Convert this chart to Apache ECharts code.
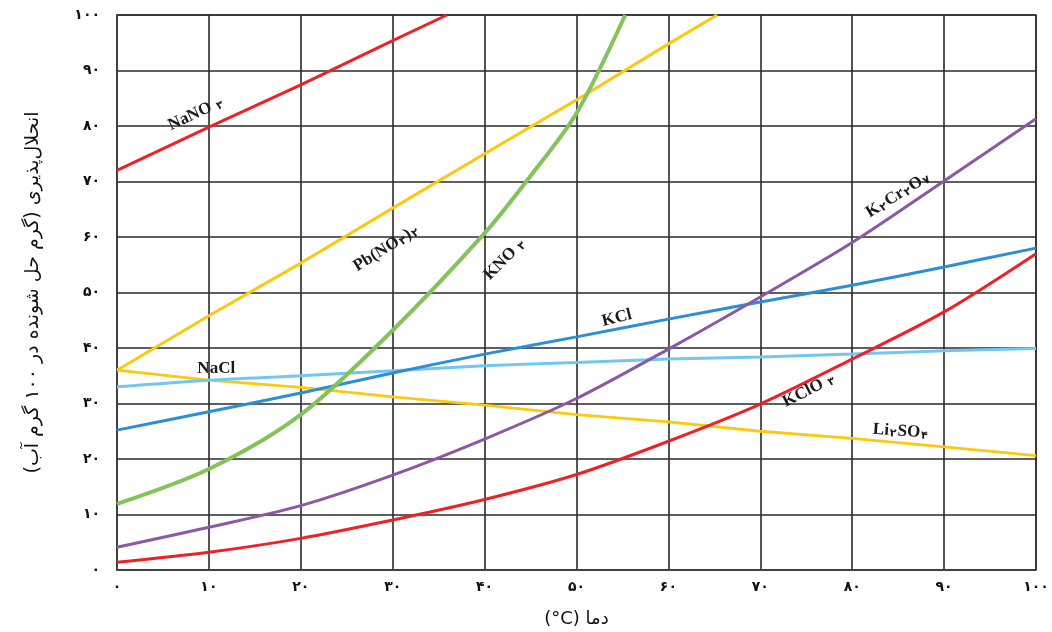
<!DOCTYPE html>
<html>
<head>
<meta charset="utf-8">
<script src="https://cdn.jsdelivr.net/npm/echarts@6/dist/echarts.min.js"></script>
<style>
html,body{margin:0;padding:0;background:#fff;}
#chart{width:1052px;height:632px;}
</style>
</head>
<body>
<div id="chart"></div>
<script>
// ---- data ----
const xTicks = [0,10,20,30,40,50,60,70,80,90,100];
const yTicks = [0,10,20,30,40,50,60,70,80,90,100];
const temps = [0,10,20,30,40,50,60,70,80,90,100];

const naNO3Temps = [0,10,20,30,35.9];
const naNO3 = [72,79.8,87.4,95.4,100];

const pbNO3Temps = [0,10,20,30,40,50,60,65.3];
const pbNO3 = [36,45.8,55.3,65.2,75,84.7,94.8,100];

const kNO3Temps = [0,10,20,30,40,45,50,55.3];
const kNO3 = [11.9,18.2,28,43.2,60.7,71,82.3,100];

const kCl = [25.2,28.5,31.9,35.5,38.9,42,45.2,48.3,51.3,54.6,58];
const naCl = [33,34.2,35,35.9,36.8,37.4,38,38.4,38.9,39.5,39.9];
const li2SO4 = [36,34.2,32.9,31.2,29.7,28,26.7,25,23.7,22.2,20.6];
const k2Cr2O7 = [4.1,7.7,11.6,17.1,23.6,30.9,39.8,49.2,59,70.1,81.3];
const kClO3 = [1.4,3.2,5.7,9,12.7,17.2,23.2,29.9,38,46.5,57];

const xAxisName = '(°C) دما';
const yAxisName = 'انحلال‌پذیری (گرم حل شونده در ۱۰۰ گرم آب)\u200F';

// label anchors [temp, value, rotationDeg]
const labels = [
  {parts:[['NaNO ','m'],['۳','s']], at:[8.6,82.2], rot:25},
  {parts:[['Pb(NO','m'],['۳','s'],[')','m'],['۲','s']], at:[29.3,58.0], rot:32},
  {parts:[['KNO ','m'],['۳','s']], at:[42.2,56.0], rot:45},
  {parts:[['KCl','m']], at:[54.4,45.4], rot:14},
  {parts:[['NaCl','m']], at:[10.8,36.2], rot:0},
  {parts:[['K','m'],['۲','s'],['Cr','m'],['۲','s'],['O','m'],['۷','s']], at:[85,67.6], rot:32},
  {parts:[['KClO ','m'],['۳','s']], at:[75.3,32.4], rot:27},
  {parts:[['Li','m'],['۲','s'],['SO','m'],['۴','s']], at:[85.3,25], rot:-4}
];

const fa = s => String(s).replace(/\d/g, d => '۰۱۲۳۴۵۶۷۸۹'[d]);
const pairs = (xs, ys) => xs.map((x,i) => [x, ys[i]]);

const RED = '#ec2227', YEL = '#fdc80f', GRN = '#82c35b', BLU = '#2a8fd6', LBL = '#72c7f0', PUR = '#8c58a6';

const chart = echarts.init(document.getElementById('chart'), null, {renderer:'canvas'});

function line(name, data, color, width, smooth) {
  return {
    name, type:'line', data, showSymbol:false, symbol:'none',
    smooth: smooth,
    lineStyle:{color, width}, clip:true, silent:true
  };
}

const option = {
  animation:false,
  backgroundColor:'#fff',
  grid:{left:117, right:16, top:15, bottom:62, outerBoundsMode:'none', containLabel:false,
        show:true, borderColor:'#444', borderWidth:1.5},
  xAxis:{
    type:'value', min:0, max:100, interval:10,
    name:xAxisName, nameLocation:'middle', nameGap:40,
    nameTextStyle:{fontFamily:'DejaVu Sans', fontSize:18, color:'#111'},
    axisLine:{show:true, lineStyle:{color:'#444', width:1.5}},
    axisTick:{show:false},
    axisLabel:{formatter:v => fa(v), margin:10, fontFamily:'DejaVu Sans', fontSize:14, fontWeight:'bold', color:'#111'},
    splitLine:{show:true, lineStyle:{color:'#2a2a2a', width:1.6}}
  },
  yAxis:{
    type:'value', min:0, max:100, interval:10,
    name:yAxisName, nameLocation:'middle', nameGap:74, nameRotate:90,
    nameTextStyle:{fontFamily:'DejaVu Sans', fontSize:19, color:'#111'},
    axisLine:{show:true, lineStyle:{color:'#444', width:1.5}},
    axisTick:{show:false},
    axisLabel:{formatter:v => fa(v), margin:17, fontFamily:'DejaVu Sans', fontSize:14, fontWeight:'bold', color:'#111'},
    splitLine:{show:true, lineStyle:{color:'#2a2a2a', width:1.6}}
  },
  series:[
    line('Li2SO4', pairs(temps, li2SO4), YEL, 2.8, false),
    line('NaCl', pairs(temps, naCl), LBL, 3, 0.3),
    line('KCl', pairs(temps, kCl), BLU, 3, 0.3),
    line('KClO3', pairs(temps, kClO3), RED, 3, 0.3),
    line('K2Cr2O7', pairs(temps, k2Cr2O7), PUR, 3, 0.3),
    line('PbNO32', pairs(pbNO3Temps, pbNO3), YEL, 3, false),
    line('NaNO3', pairs(naNO3Temps, naNO3), RED, 3, false),
    line('KNO3', pairs(kNO3Temps, kNO3), GRN, 4, 0.3)
  ]
};
chart.setOption(option);

const graphics = labels.map(l => {
  const p = chart.convertToPixel({gridIndex:0}, l.at);
  const text = l.parts.map(([t, k]) => '{' + k + '|' + t + '}').join('');
  return {
    type:'text', x:p[0], y:p[1], rotation:l.rot * Math.PI / 180, z:100,
    style:{
      text, align:'center', verticalAlign:'middle',
      rich:{
        m:{fontFamily:'Liberation Serif', fontWeight:'bold', fontSize:17, fill:'#1a1a1a', verticalAlign:'bottom'},
        s:{fontFamily:'DejaVu Sans', fontWeight:'bold', fontSize:11, fill:'#1a1a1a', verticalAlign:'bottom', padding:[4,1,0,1]}
      }
    }
  };
});
chart.setOption({graphic:graphics});
</script>
</body>
</html>
